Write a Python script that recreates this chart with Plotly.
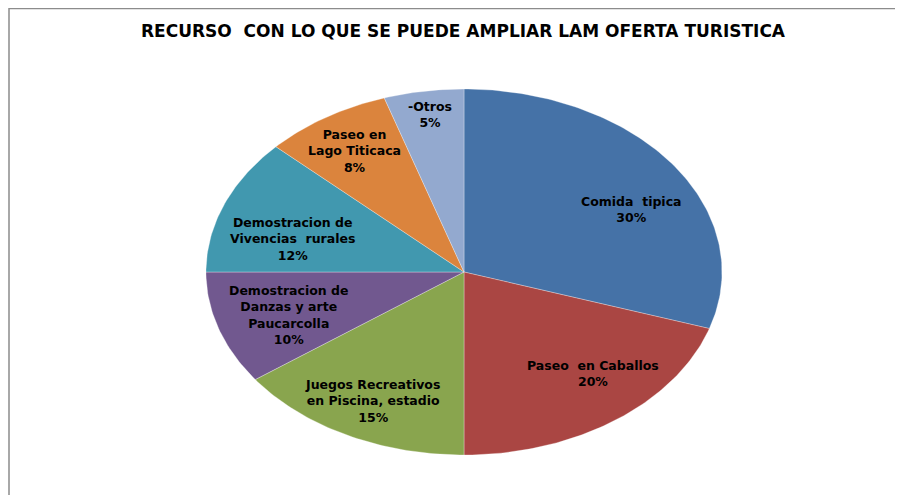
"""Pie chart: recursos para ampliar la oferta turistica (elliptical Excel-style pie)"""

import numpy as np
import plotly.graph_objects as go

TITLE = "RECURSO  CON LO QUE SE PUEDE AMPLIAR LAM OFERTA TURISTICA"

LABELS = [
    "Comida  tipica",
    "Paseo  en Caballos",
    "Juegos Recreativos<br>en Piscina, estadio",
    "Demostracion de<br>Danzas y arte<br>Paucarcolla",
    "Demostracion de<br>Vivencias  rurales",
    "Paseo en<br>Lago Titicaca",
    "-Otros",
]
PERCENTS = [30, 20, 15, 10, 12, 8, 5]
COLORS = ["#4572A7", "#AA4643", "#89A54E", "#71588F", "#4198AF", "#DB843D", "#93A9CF"]

# label centres in unit-ellipse coords (Excel put them by hand, more or less)
LABEL_POS = [
    (0.651, 0.339),
    (0.500, -0.557),
    (-0.353, -0.705),
    (-0.682, -0.235),
    (-0.663, 0.180),
    (-0.426, 0.661),
    (-0.132, 0.858),
]

W, H = 903, 495
OFF = 8                # page body margin, the div starts 8px in
CX, CY = 464 - OFF, 272 - OFF   # pie centre in figure pixels
RX, RY = 258, 183      # half axes in pixels


def slice_path(start, end):
    """Closed outline of one slice, fractions measured clockwise from 12 o'clock"""
    n = max(int((end - start) * 400), 4)
    ang = np.pi / 2 - 2 * np.pi * np.linspace(start, end, n)
    xs = np.concatenate([[0], np.cos(ang), [0]])
    ys = np.concatenate([[0], np.sin(ang), [0]])
    return xs, ys


def plot_graph():
    fig = go.Figure()

    total = sum(PERCENTS)
    start = 0.0
    for label, pct, color in zip(LABELS, PERCENTS, COLORS):
        end = start + pct / total
        xs, ys = slice_path(start, end)
        fig.add_trace(go.Scatter(
            x=xs, y=ys, mode="lines", fill="toself",
            fillcolor=color, line=dict(color="rgba(255,255,255,0.5)", width=0.6),
            name=label.replace("<br>", " "), hoverinfo="name", showlegend=False,
        ))
        start = end

    for label, pct, (lx, ly) in zip(LABELS, PERCENTS, LABEL_POS):
        fig.add_annotation(
            x=lx, y=ly, xref="x", yref="y",
            text=f"<b>{label}<br>{pct}%</b>",
            showarrow=False, align="center",
            font=dict(family="DejaVu Sans", size=12.5, color="#000000"),
        )

    fig.add_annotation(
        x=(463 - OFF) / W, y=1 - (31 - OFF) / H, xref="paper", yref="paper",
        text=f"<b>{TITLE}</b>", showarrow=False,
        xanchor="center", yanchor="middle",
        font=dict(family="DejaVu Sans", size=17, color="#000000"),
    )

    # chart area border (only top and left edges fall inside the window)
    fig.add_shape(
        type="rect", xref="paper", yref="paper",
        x0=1 / W, x1=1.5, y0=-0.5, y1=1 - 0.5 / H,
        line=dict(color="#8C8C8C", width=1.5),
    )

    fig.update_xaxes(range=[-1, 1], domain=[(CX - RX) / W, (CX + RX) / W], visible=False)
    fig.update_yaxes(range=[-1, 1], domain=[(H - CY - RY) / H, (H - CY + RY) / H], visible=False)
    fig.update_layout(
        width=W, height=H,
        margin=dict(l=0, r=0, t=0, b=0),
        paper_bgcolor="white", plot_bgcolor="rgba(0,0,0,0)",
        showlegend=False,
    )

    fig.write_html("out.html")


def main():
    plot_graph()


main()
